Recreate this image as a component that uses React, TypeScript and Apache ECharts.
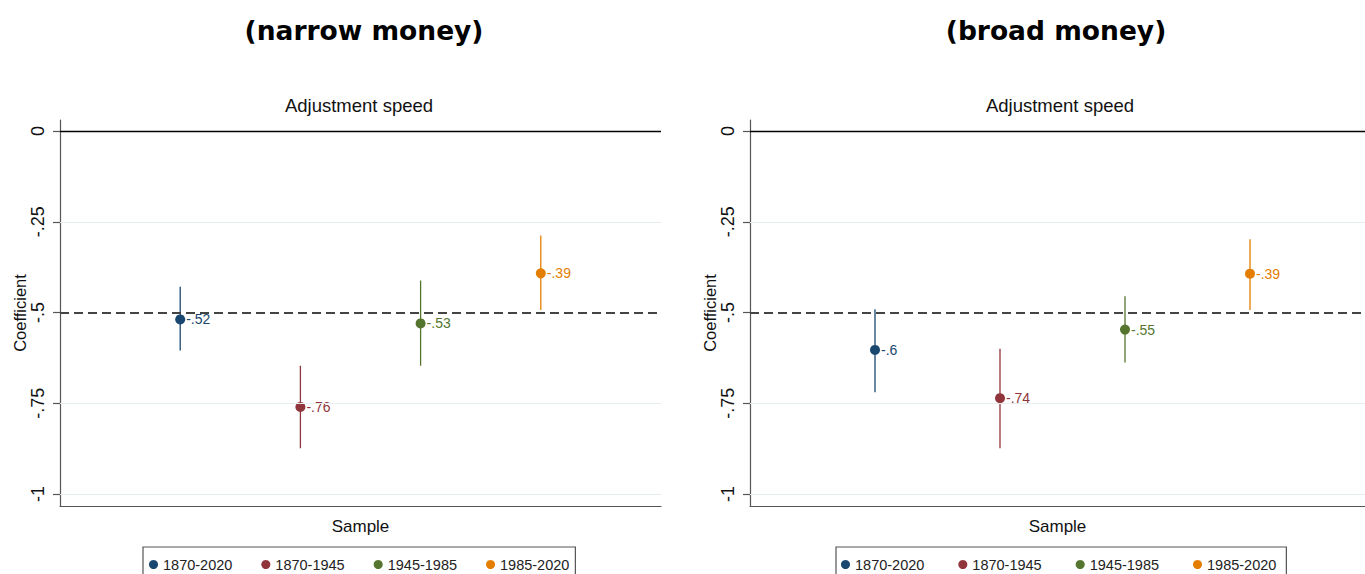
import React, { useEffect, useRef } from "react";
import * as echarts from "echarts";

// ---- data ----
const samples = ["1870-2020", "1870-1945", "1945-1985", "1985-2020"];
const colors = ["#1a476f", "#90353b", "#55752f", "#e37e00"];
const xPos = [1, 2, 3, 4];

const narrowCoef = [-0.519, -0.76, -0.53, -0.392];
const narrowHi = [-0.429, -0.647, -0.412, -0.288];
const narrowLo = [-0.605, -0.874, -0.647, -0.493];

const broadCoef = [-0.603, -0.736, -0.547, -0.393];
const broadHi = [-0.491, -0.6, -0.455, -0.298];
const broadLo = [-0.72, -0.874, -0.638, -0.493];

const yTicks = [0, -0.25, -0.5, -0.75, -1];
const yTickLabels = ["0", "-.25", "-.5", "-.75", "-1"];
const gridLineValues = [-0.25, -0.75, -1];
const zeroLine = 0;
const refLine = -0.5;

const panelTitles = ["(narrow money)", "(broad money)"];
const subTitle = "Adjustment speed";

const FONT = "'Liberation Sans', Arial, sans-serif";

function fmtStata(v: number): string {
  let s = (Math.round(v * 100) / 100).toString();
  s = s.replace("0.", ".");
  return s;
}

function buildSeries(gridIdx: number, coef: number[], hi: number[], lo: number[]) {
  const out: any[] = [];
  out.push({
    type: "line",
    name: "__grid" + gridIdx,
    xAxisIndex: gridIdx,
    yAxisIndex: gridIdx,
    data: [],
    silent: true,
    z: 1,
    markLine: {
      silent: true,
      symbol: "none",
      label: { show: false },
      animation: false,
      data: [
        ...gridLineValues.map((v) => ({
          yAxis: v,
          lineStyle: { color: "#e6eef0", width: 1, type: "solid" },
        })),
        { yAxis: zeroLine, lineStyle: { color: "#000", width: 1.3, type: "solid" } },
        { yAxis: refLine, lineStyle: { color: "#444", width: 1.8, type: [9, 5] } },
      ],
    },
  });
  samples.forEach((name, i) => {
    out.push({
      type: "line",
      name: "__ci" + gridIdx + "_" + i,
      xAxisIndex: gridIdx,
      yAxisIndex: gridIdx,
      data: [
        [xPos[i], hi[i]],
        [xPos[i], lo[i]],
      ],
      symbol: "none",
      silent: true,
      lineStyle: { color: colors[i], width: 1.3 },
      z: 3,
    });
    out.push({
      type: "scatter",
      name,
      xAxisIndex: gridIdx,
      yAxisIndex: gridIdx,
      data: [[xPos[i], coef[i]]],
      symbol: "circle",
      symbolSize: 10,
      itemStyle: { color: colors[i], opacity: 1 },
      z: 4,
      label: {
        show: true,
        position: "right",
        distance: 1,
        formatter: (p: any) => "-" + fmtStata(p.value[1]).replace("-", ""),
        color: colors[i],
        fontSize: 14,
        fontFamily: FONT,
      },
    });
  });
  return out;
}

export default function App() {
  const ref = useRef<HTMLDivElement>(null);
  useEffect(() => {
    if (!ref.current) return;
    const chart = echarts.init(ref.current, undefined, { renderer: "svg" });
    const yMax = 11 / 363;
    const yMin = -375 / 363;
    const makeY = (gi: number) => ({
      type: "value",
      gridIndex: gi,
      min: yMin,
      max: yMax,
      name: "Coefficient",
      nameLocation: "middle",
      nameRotate: 90,
      nameGap: 30,
      nameTextStyle: { fontSize: 16.5, fontFamily: FONT, color: "#111" },
      axisLine: { show: true, lineStyle: { color: "#555", width: 1.2 } },
      axisTick: {
        show: true,
        customValues: yTicks,
        length: 7,
        lineStyle: { color: "#555", width: 1.2 },
      },
      axisLabel: {
        show: true,
        customValues: yTicks,
        rotate: 90,
        margin: 13,
        fontSize: 18,
        fontFamily: FONT,
        color: "#111",
        formatter: (v: number) => {
          const idx = yTicks.findIndex((t) => Math.abs(t - v) < 1e-6);
          return idx >= 0 ? yTickLabels[idx] : "";
        },
      },
      splitLine: { show: false },
    });
    // right panel is cut off by the picture edge: visible range is 0..4.92
    const makeX = (gi: number, xMax: number) => ({
      type: "value",
      gridIndex: gi,
      min: 0,
      max: xMax,
      position: "bottom",
      name: "Sample",
      nameLocation: "middle",
      nameGap: 12,
      nameTextStyle: { fontSize: 17, fontFamily: FONT, color: "#111", verticalAlign: "top" },
      axisLine: { show: true, onZero: false, lineStyle: { color: "#555", width: 1.2 } },
      axisTick: { show: false },
      axisLabel: { show: false },
      splitLine: { show: false },
    });
    const legendCommon = {
      orient: "horizontal",
      top: 547,
      icon: "circle",
      itemWidth: 9,
      itemHeight: 9,
      borderColor: "#555",
      borderWidth: 1.2,
      borderRadius: 0,
      selectedMode: false,
      textStyle: { fontSize: 14.5, fontFamily: FONT, color: "#222", padding: [0, 0, 0, 0] },
      data: samples,
    };
    chart.setOption({
      animation: false,
      backgroundColor: "#fff",
      grid: [
        { left: 60, top: 120, width: 601, height: 386 },
        { left: 750, top: 120, width: 615, height: 386 },
      ],
      xAxis: [makeX(0, 5), makeX(1, 4.92)],
      yAxis: [makeY(0), makeY(1)],
      legend: [
        { ...legendCommon, left: 143, itemGap: 29, padding: [10, 6, 14, 6] },
        { ...legendCommon, left: 836, itemGap: 34, padding: [10, 10, 14, 5] },
      ],
      graphic: [
        {
          type: "text",
          x: 364,
          y: 30,
          style: {
            text: panelTitles[0],
            textAlign: "center",
            textVerticalAlign: "middle",
            font: "bold 26.5px 'DejaVu Sans', Verdana, sans-serif",
            fill: "#000",
          },
        },
        {
          type: "text",
          x: 1056,
          y: 30,
          style: {
            text: panelTitles[1],
            textAlign: "center",
            textVerticalAlign: "middle",
            font: "bold 26.5px 'DejaVu Sans', Verdana, sans-serif",
            fill: "#000",
          },
        },
        {
          type: "text",
          x: 359,
          y: 105,
          style: {
            text: subTitle,
            textAlign: "center",
            textVerticalAlign: "middle",
            font: "18.5px 'Liberation Sans', Arial, sans-serif",
            fill: "#111",
          },
        },
        {
          type: "text",
          x: 1060,
          y: 105,
          style: {
            text: subTitle,
            textAlign: "center",
            textVerticalAlign: "middle",
            font: "18.5px 'Liberation Sans', Arial, sans-serif",
            fill: "#111",
          },
        },
      ],
      series: [
        ...buildSeries(0, narrowCoef, narrowHi, narrowLo),
        ...buildSeries(1, broadCoef, broadHi, broadLo),
      ],
    });
    return () => chart.dispose();
  }, []);
  return (
    <div
      ref={ref}
      style={{ position: "absolute", left: 0, top: 0, width: 1365, height: 574 }}
    />
  );
}
